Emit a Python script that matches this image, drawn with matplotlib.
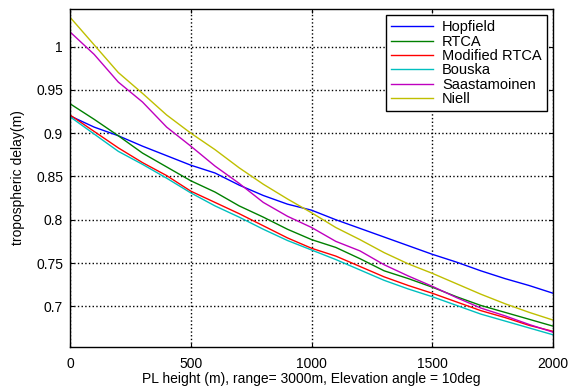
import matplotlib
matplotlib.use("Agg")
import matplotlib.pyplot as plt
import numpy as np

plt.rcParams['font.family'] = ['Liberation Sans', 'DejaVu Sans']

# PL height (m)
height = [0, 100, 200, 300, 400, 500, 600, 700, 800, 900, 1000,
          1100, 1200, 1300, 1400, 1500, 1600, 1700, 1800, 1900, 2000]

# Tropospheric delay (m) per model
hopfield = [0.920, 0.907, 0.897, 0.885, 0.874, 0.863, 0.854, 0.840, 0.828, 0.818, 0.811,
            0.800, 0.790, 0.780, 0.770, 0.760, 0.751, 0.741, 0.732, 0.724, 0.715]
rtca = [0.934, 0.916, 0.897, 0.877, 0.861, 0.845, 0.832, 0.816, 0.803, 0.789, 0.777,
        0.768, 0.755, 0.741, 0.732, 0.722, 0.711, 0.701, 0.693, 0.685, 0.677]
modified_rtca = [0.921, 0.902, 0.883, 0.866, 0.851, 0.833, 0.820, 0.807, 0.793, 0.779, 0.767,
                 0.758, 0.746, 0.734, 0.724, 0.715, 0.705, 0.695, 0.687, 0.678, 0.671]
bouska = [0.919, 0.899, 0.879, 0.864, 0.848, 0.831, 0.816, 0.803, 0.789, 0.776, 0.765,
          0.754, 0.742, 0.730, 0.720, 0.711, 0.701, 0.691, 0.683, 0.675, 0.667]
saastamoinen = [1.017, 0.991, 0.959, 0.936, 0.907, 0.885, 0.862, 0.842, 0.820, 0.804, 0.791,
                0.775, 0.764, 0.748, 0.735, 0.723, 0.710, 0.698, 0.689, 0.679, 0.670]
niell = [1.034, 1.002, 0.970, 0.946, 0.921, 0.900, 0.881, 0.860, 0.841, 0.824, 0.808,
         0.791, 0.777, 0.762, 0.749, 0.738, 0.726, 0.714, 0.703, 0.693, 0.684]

series = [
    ("Hopfield", hopfield, (0, 0, 1)),
    ("RTCA", rtca, (0, 0.5, 0)),
    ("Modified RTCA", modified_rtca, (1, 0, 0)),
    ("Bouska", bouska, (0, 0.75, 0.75)),
    ("Saastamoinen", saastamoinen, (0.75, 0, 0.75)),
    ("Niell", niell, (0.75, 0.75, 0)),
]

yticks = [0.7, 0.75, 0.8, 0.85, 0.9, 0.95, 1.0]
ytick_labels = ["0.7", "0.75", "0.8", "0.85", "0.9", "0.95", "1"]
xticks = [0, 500, 1000, 1500, 2000]

fig = plt.figure(figsize=(5.69, 3.87), dpi=100)
ax = fig.add_axes([0.123, 0.1034, 0.8494, 0.8746])

for name, vals, col in series:
    ax.plot(height, vals, color=col, linewidth=1.0, label=name)

ax.set_xlim(0, 2000)
ax.set_ylim(0.653, 1.044)
ax.set_xticks(xticks)
ax.set_xticklabels([str(t) for t in xticks])
ax.set_yticks(yticks)
ax.set_yticklabels(ytick_labels)
ax.tick_params(direction='in', length=3, width=0.8, labelsize=10,
               top=True, right=True, colors='black')
ax.tick_params(axis='x', pad=7)
ax.tick_params(axis='y', pad=5)
ax.grid(True, color='black', linestyle=':', linewidth=1.0)
for sp in ax.spines.values():
    sp.set_linewidth(1.0)
    sp.set_color('black')

ax.set_xlabel("PL height (m), range= 3000m, Elevation angle = 10deg", fontsize=10, labelpad=1)
ax.set_ylabel("tropospheric delay(m)", fontsize=10, labelpad=8)

leg = ax.legend(loc='upper right', fontsize=10.5, frameon=True, fancybox=False,
                edgecolor='black', framealpha=1.0, borderpad=0.35,
                labelspacing=0.03, handlelength=2.9, handletextpad=0.6,
                borderaxespad=0.45)
leg.get_frame().set_linewidth(1.0)

fig.savefig("out.png", dpi=100)
